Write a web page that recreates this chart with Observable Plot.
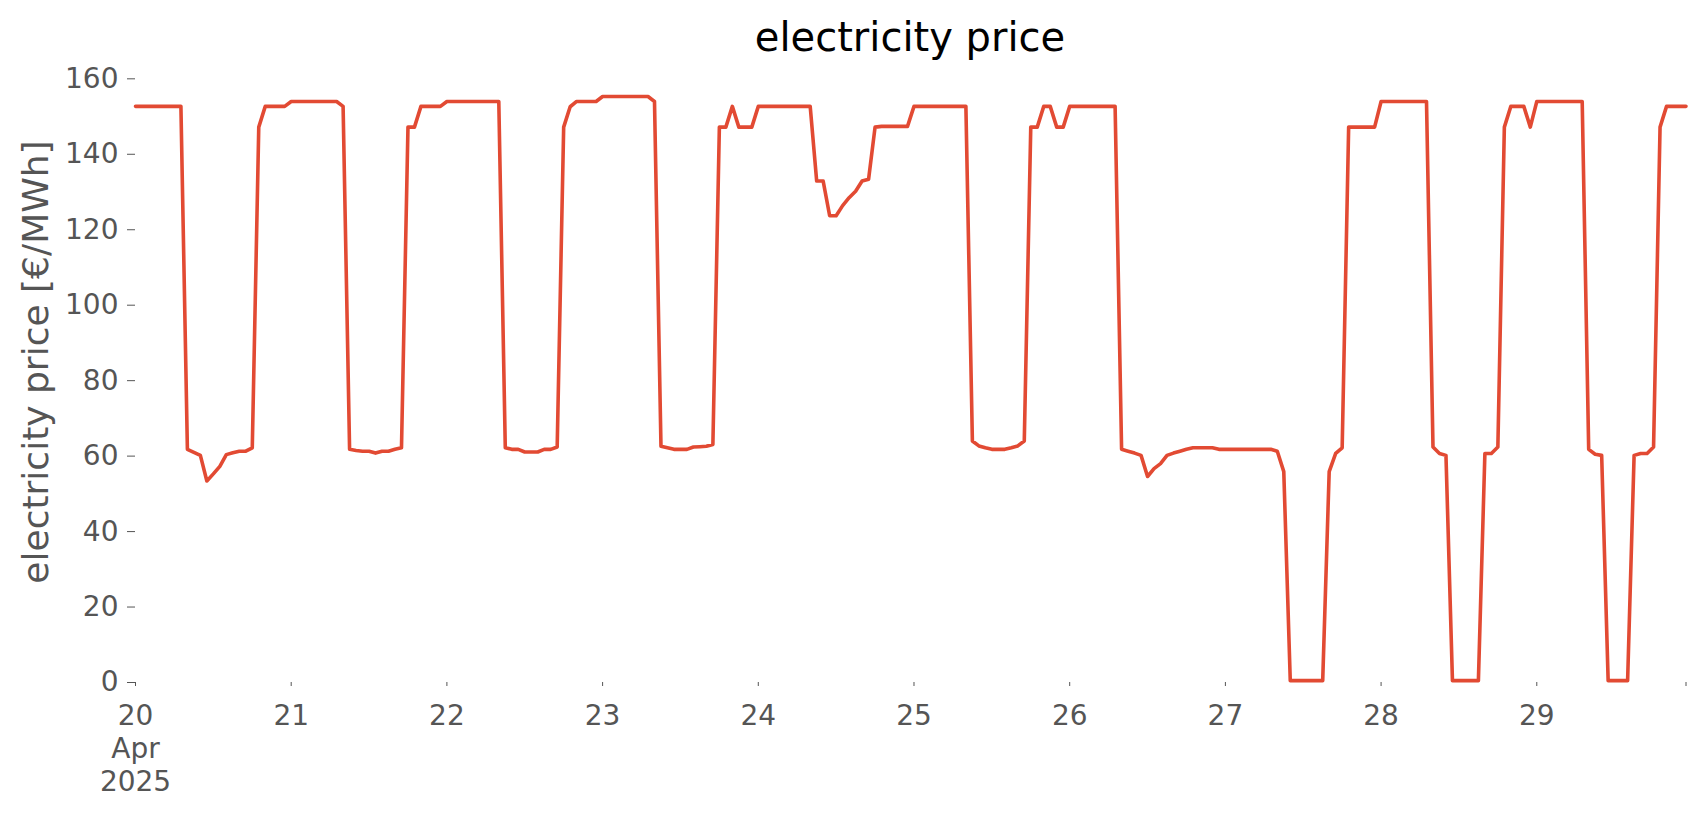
<!DOCTYPE html>
<html>
<head>
<meta charset="utf-8">
<script src="https://cdn.jsdelivr.net/npm/d3@7"></script>
<script src="https://cdn.jsdelivr.net/npm/@observablehq/plot@0.6"></script>
<style>
  html, body { margin: 0; padding: 0; background: #ffffff; }
  #wrap { position: relative; width: 1706px; height: 815px; overflow: hidden; }
  #chart { position: absolute; left: 0; top: 0; }
  #title { position: absolute; left: 910px; top: 4px; height: 66px; line-height: 66px; transform: translateX(-50%);
           font-family: "DejaVu Sans", sans-serif; font-size: 40px; color: #000; white-space: nowrap; z-index: 2; }
</style>
</head>
<body>
<div id="wrap">
  <div id="chart"></div>
  <div id="title">electricity price</div>
</div>
<script>
// Hourly electricity price [€/MWh], one array per day (hours 0..23), April 2025
const apr20 = [152.7,152.7,152.7,152.7,152.7,152.7,152.7,152.7,61.8,61.0,60.2,53.4,55.3,57.3,60.4,60.9,61.3,61.3,62.2,147.2,152.7,152.7,152.7,152.7];
const apr21 = [154.0,154.0,154.0,154.0,154.0,154.0,154.0,154.0,152.7,61.8,61.5,61.3,61.3,60.8,61.3,61.3,61.8,62.2,147.2,147.2,152.7,152.7,152.7,152.7];
const apr22 = [154.0,154.0,154.0,154.0,154.0,154.0,154.0,154.0,154.0,62.2,61.8,61.8,61.1,61.1,61.1,61.8,61.8,62.4,147.2,152.6,154.0,154.0,154.0,154.0];
const apr23 = [155.3,155.3,155.3,155.3,155.3,155.3,155.3,155.3,154.0,62.6,62.2,61.8,61.8,61.8,62.4,62.5,62.6,63.1,147.2,147.2,152.7,147.2,147.2,147.2];
const apr24 = [152.7,152.7,152.7,152.7,152.7,152.7,152.7,152.7,152.7,132.9,132.9,123.7,123.7,126.4,128.5,130.2,132.9,133.4,147.2,147.4,147.4,147.4,147.4,147.4];
const apr25 = [152.7,152.7,152.7,152.7,152.7,152.7,152.7,152.7,152.7,64.0,62.7,62.2,61.8,61.8,61.8,62.2,62.7,64.0,147.2,147.2,152.7,152.7,147.2,147.2];
const apr26 = [152.7,152.7,152.7,152.7,152.7,152.7,152.7,152.7,61.8,61.3,60.8,60.2,54.6,56.7,58.0,60.2,60.8,61.3,61.8,62.2,62.2,62.2,62.2,61.8];
const apr27 = [61.8,61.8,61.8,61.8,61.8,61.8,61.8,61.8,61.3,55.9,0.5,0.5,0.5,0.5,0.5,0.5,55.9,60.7,62.2,147.2,147.2,147.2,147.2,147.2];
const apr28 = [154.0,154.0,154.0,154.0,154.0,154.0,154.0,154.0,62.4,60.7,60.2,0.5,0.5,0.5,0.5,0.5,60.7,60.7,62.4,147.2,152.7,152.7,152.7,147.2];
const apr29 = [154.0,154.0,154.0,154.0,154.0,154.0,154.0,154.0,61.8,60.5,60.2,0.5,0.5,0.5,0.5,60.2,60.7,60.7,62.4,147.2,152.7,152.7,152.7,152.7];

const dayStarts = ["2025-04-20","2025-04-21","2025-04-22","2025-04-23","2025-04-24","2025-04-25","2025-04-26","2025-04-27","2025-04-28","2025-04-29"];
const xTickValues = ["2025-04-20T00:00Z","2025-04-21T00:00Z","2025-04-22T00:00Z","2025-04-23T00:00Z","2025-04-24T00:00Z","2025-04-25T00:00Z","2025-04-26T00:00Z","2025-04-27T00:00Z","2025-04-28T00:00Z","2025-04-29T00:00Z","2025-04-29T23:00Z"];
const xTickLabels = ["20\nApr\n2025","21","22","23","24","25","26","27","28","29",""];
const yTicks = [0,20,40,60,80,100,120,140,160];
const titleText = "electricity price";
const yLabel = "electricity price [€/MWh]";

const dayValues = [apr20, apr21, apr22, apr23, apr24, apr25, apr26, apr27, apr28, apr29];
const rows = [];
dayValues.forEach((vals, di) => {
  const base = new Date(dayStarts[di] + "T00:00Z");
  vals.forEach((v, h) => rows.push({time: new Date(base.getTime() + h * 3600000), price: v}));
});

const tickDates = xTickValues.map(s => new Date(s));
const labelMap = new Map(tickDates.map((d, i) => [+d, xTickLabels[i]]));

const chart = Plot.plot({
  width: 1706,
  height: 815,
  marginLeft: 135,
  marginRight: 20.5,
  marginTop: 67,
  marginBottom: 133,
  style: {fontFamily: "DejaVu Sans, sans-serif", fontSize: "28px", color: "#555555", background: "#ffffff", overflow: "visible"},
  x: {type: "utc", domain: [rows[0].time, rows[rows.length - 1].time]},
  y: {domain: [0, 163]},
  marks: [
    Plot.axisY({ticks: yTicks, tickSize: 8, tickPadding: 9, label: null, fontSize: 28}),
    Plot.axisX({ticks: tickDates, tickFormat: d => labelMap.get(+d) ?? "", tickSize: 4, tickPadding: 15, lineHeight: 1.18, label: null, fontSize: 28}),
    Plot.lineY(rows, {x: "time", y: "price", stroke: "#E24A33", strokeWidth: 3.6, strokeLinejoin: "round"}),
    Plot.text([yLabel], {text: d => d, frameAnchor: "left", textAnchor: "middle", lineAnchor: "middle", rotate: -90, dx: -99, dy: -13, fontSize: 36, fill: "#555555"})
  ]
});
document.getElementById("chart").appendChild(chart);
document.getElementById("title").textContent = titleText;
</script>
</body>
</html>
